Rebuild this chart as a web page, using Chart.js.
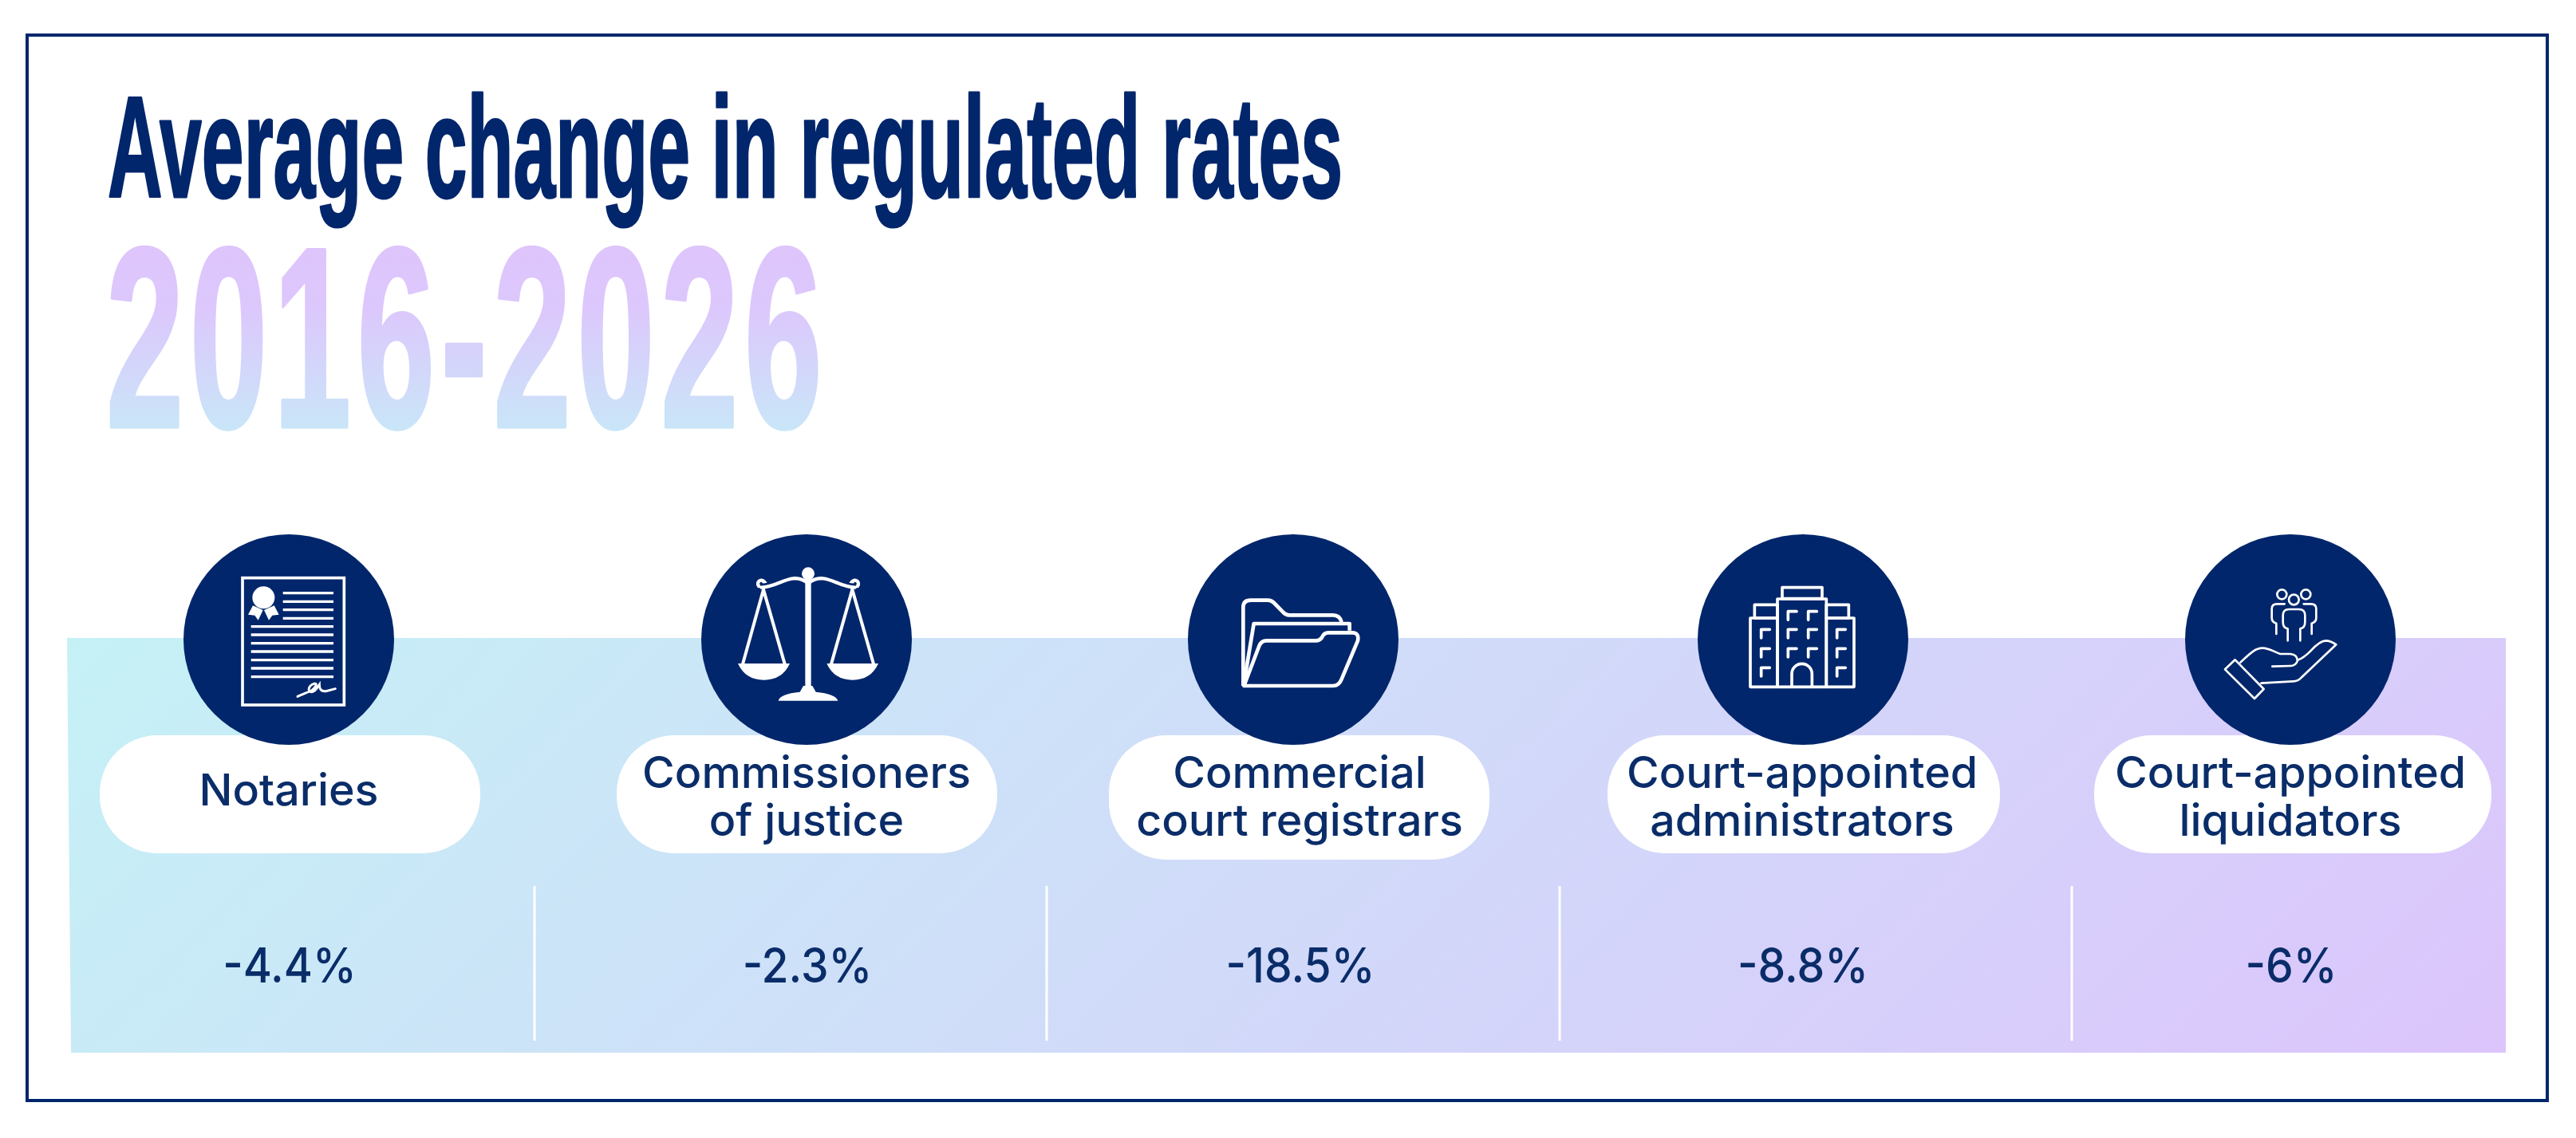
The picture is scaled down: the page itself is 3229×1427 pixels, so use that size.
<!DOCTYPE html>
<html>
<head>
<meta charset="utf-8">
<title>Average change in regulated rates</title>
<script src="https://cdn.jsdelivr.net/npm/chart.js@4/dist/chart.umd.min.js"></script>
<style>
    html, body { margin: 0; padding: 0; background: #fff; }
    canvas { display: block; }
</style>
</head>
<body>
<canvas id="ratesChart" width="3229" height="1427"></canvas>
<script>
const titleText = 'Average change in regulated rates';
const periodText = '2016-2026';
const categories = [
    ['Notaries'],
    ['Commissioners', 'of justice'],
    ['Commercial', 'court registrars'],
    ['Court-appointed', 'administrators'],
    ['Court-appointed', 'liquidators']
];
const changeValues = [-4.4, -2.3, -18.5, -8.8, -6];

// Layout only, in axis units (the axes run over the whole page)
const columnX = [362, 1011, 1621, 2260, 2871];
const labelX = [362, 1011, 1629, 2259, 2871];
const valueX = [363, 1012, 1630, 2260, 2872];
const pillLeft = [125, 773, 1390, 2015, 2625];
const pillRight = [602, 1250, 1867, 2507, 3123];
const pillBottom = [1070, 1070, 1078, 1070, 1070];
const dividerX = [670, 1312, 1955, 2597];

const NAVY = '#02266b';
const INK = '#0a2d69';
const LABEL_FONT = '500 55px Inter, "Noto Sans", sans-serif';
const VALUE_FONT = '500 60px Inter, "Noto Sans", sans-serif';

function dividerPoints() {
    const points = [];
    dividerX.forEach(x => {
        points.push({ x: x, y: 1111 }, { x: x, y: 1305 }, { x: x, y: null });
    });
    return points;
}

// Draws text squeezed to a target width, the installed fonts are all wider than the original
function fitText(ctx, text, left, baseline, width, weight) {
    ctx.save();
    const natural = ctx.measureText(text).width;
    ctx.translate(left, 0);
    ctx.scale(width / natural, 1);
    if (weight) {
        ctx.lineWidth = weight;
        ctx.lineJoin = 'round';
        ctx.strokeText(text, 0, baseline);
    }
    ctx.fillText(text, 0, baseline);
    ctx.restore();
}

function stretchedCenter(ctx, text, cx, baseline, stretch) {
    ctx.save();
    ctx.translate(cx, 0);
    ctx.scale(stretch, 1);
    ctx.textAlign = 'center';
    ctx.fillText(text, 0, baseline);
    ctx.restore();
}

// Icons are traced in a 600x600 box (3 units per pixel) around each badge
const icons = [
    function document(ctx) {
        ctx.lineWidth = 11;
        ctx.strokeRect(126, 74, 382, 478);
        ctx.lineWidth = 10;
        [131, 163, 194, 226].forEach(y => line(ctx, 278, y, 468, y));
        [257, 288, 320, 351, 383, 414, 446].forEach(y => line(ctx, 158, y, 468, y));
        ctx.beginPath();
        ctx.arc(205, 148, 42, 0, Math.PI * 2);
        ctx.fill();
        shape(ctx, [[165, 178], [147, 212], [172, 215], [185, 233], [203, 195]]);
        shape(ctx, [[245, 178], [263, 212], [238, 215], [225, 233], [207, 195]]);
        ctx.lineWidth = 9;
        ctx.lineCap = 'round';
        ctx.beginPath();
        ctx.moveTo(333, 520);
        ctx.bezierCurveTo(350, 512, 370, 505, 385, 498);
        ctx.bezierCurveTo(398, 490, 412, 468, 395, 472);
        ctx.bezierCurveTo(375, 478, 368, 500, 385, 503);
        ctx.bezierCurveTo(400, 505, 410, 482, 415, 475);
        ctx.bezierCurveTo(415, 490, 420, 503, 440, 500);
        ctx.lineTo(475, 491);
        ctx.stroke();
    },
    function scales(ctx) {
        ctx.fillRect(295, 60, 22, 430);
        ctx.beginPath();
        ctx.arc(306, 58, 24, 0, Math.PI * 2);
        ctx.fill();
        ctx.lineWidth = 13;
        ctx.lineCap = 'round';
        ctx.beginPath();
        ctx.moveTo(138, 88);
        ctx.arc(130, 96, 13, -0.7, 2.4, true);
        ctx.moveTo(130, 110);
        ctx.bezierCurveTo(180, 108, 210, 80, 250, 76);
        ctx.bezierCurveTo(275, 74, 295, 85, 306, 95);
        ctx.bezierCurveTo(317, 85, 337, 74, 362, 76);
        ctx.bezierCurveTo(402, 80, 432, 108, 482, 110);
        ctx.moveTo(474, 88);
        ctx.arc(482, 96, 13, Math.PI + 0.7, Math.PI - 2.4);
        ctx.stroke();
        ctx.lineWidth = 12;
        line(ctx, 138, 118, 60, 398);
        line(ctx, 138, 118, 218, 398);
        line(ctx, 472, 118, 393, 398);
        line(ctx, 472, 118, 552, 398);
        [[42, 237], [376, 570]].forEach(([a, b]) => {
            ctx.beginPath();
            ctx.moveTo(a, 396);
            ctx.quadraticCurveTo(a + 28, 458, (a + b) / 2, 458);
            ctx.quadraticCurveTo(b - 28, 458, b, 396);
            ctx.closePath();
            ctx.fill();
        });
        ctx.beginPath();
        ctx.moveTo(194, 536);
        ctx.quadraticCurveTo(200, 510, 275, 503);
        ctx.lineTo(288, 480);
        ctx.lineTo(322, 480);
        ctx.lineTo(335, 503);
        ctx.quadraticCurveTo(410, 510, 418, 536);
        ctx.closePath();
        ctx.fill();
    },
    function folder(ctx) {
        ctx.lineWidth = 14;
        ctx.lineJoin = 'round';
        ctx.beginPath();
        ctx.moveTo(112, 480);
        ctx.lineTo(112, 185);
        ctx.quadraticCurveTo(112, 158, 140, 158);
        ctx.lineTo(205, 158);
        ctx.quadraticCurveTo(218, 158, 228, 168);
        ctx.lineTo(262, 203);
        ctx.quadraticCurveTo(272, 214, 285, 214);
        ctx.lineTo(450, 214);
        ctx.quadraticCurveTo(475, 214, 482, 240);
        ctx.stroke();
        ctx.beginPath();
        ctx.moveTo(115, 470);
        ctx.lineTo(152, 246);
        ctx.lineTo(512, 246);
        ctx.lineTo(512, 272);
        ctx.stroke();
        ctx.beginPath();
        ctx.moveTo(115, 480);
        ctx.lineTo(172, 330);
        ctx.quadraticCurveTo(180, 310, 200, 310);
        ctx.lineTo(385, 310);
        ctx.quadraticCurveTo(400, 310, 408, 298);
        ctx.quadraticCurveTo(416, 280, 432, 280);
        ctx.lineTo(525, 280);
        ctx.quadraticCurveTo(548, 282, 543, 310);
        ctx.lineTo(482, 455);
        ctx.quadraticCurveTo(472, 480, 450, 480);
        ctx.closePath();
        ctx.stroke();
    },
    function building(ctx) {
        ctx.lineWidth = 11;
        ctx.lineJoin = 'round';
        ctx.lineCap = 'round';
        ctx.strokeRect(222, 110, 150, 42);
        ctx.strokeRect(204, 153, 184, 331);
        ctx.strokeRect(118, 175, 86, 50);
        ctx.strokeRect(102, 225, 102, 259);
        ctx.strokeRect(388, 175, 84, 50);
        ctx.strokeRect(388, 225, 104, 259);
        const windows = [
            [244, 200], [320, 200], [244, 268], [320, 268], [244, 340], [320, 340],
            [143, 268], [143, 340], [143, 412], [428, 268], [428, 340], [428, 412]
        ];
        windows.forEach(([x, y]) => {
            ctx.beginPath();
            ctx.moveTo(x, y + 32);
            ctx.lineTo(x, y);
            ctx.lineTo(x + 32, y);
            ctx.stroke();
        });
        ctx.beginPath();
        ctx.moveTo(258, 484);
        ctx.lineTo(258, 435);
        ctx.arc(296, 435, 38, Math.PI, 0);
        ctx.lineTo(334, 484);
        ctx.stroke();
    },
    function hand(ctx) {
        ctx.lineWidth = 8;
        ctx.lineJoin = 'round';
        ctx.lineCap = 'round';
        ctx.beginPath();
        ctx.moveTo(92, 382);
        ctx.lineTo(54, 418);
        ctx.lineTo(165, 528);
        ctx.lineTo(200, 492);
        ctx.closePath();
        ctx.stroke();
        ctx.beginPath();
        ctx.moveTo(112, 392);
        ctx.bezierCurveTo(150, 355, 170, 338, 195, 338);
        ctx.bezierCurveTo(220, 338, 245, 355, 262, 360);
        ctx.lineTo(300, 360);
        ctx.quadraticCurveTo(325, 362, 327, 385);
        ctx.quadraticCurveTo(320, 405, 300, 405);
        ctx.lineTo(232, 407);
        ctx.moveTo(330, 382);
        ctx.quadraticCurveTo(350, 375, 375, 350);
        ctx.quadraticCurveTo(410, 310, 435, 310);
        ctx.quadraticCurveTo(455, 312, 472, 325);
        ctx.lineTo(340, 450);
        ctx.quadraticCurveTo(330, 462, 310, 463);
        ctx.lineTo(190, 470);
        ctx.stroke();
        [[268, 136, 18], [358, 136, 18], [313, 156, 19]].forEach(([x, y, r]) => {
            ctx.beginPath();
            ctx.arc(x, y, r, 0, Math.PI * 2);
            ctx.stroke();
        });
        ctx.beginPath();
        ctx.moveTo(290, 310);
        ctx.lineTo(290, 265);
        ctx.quadraticCurveTo(272, 262, 272, 240);
        ctx.lineTo(272, 215);
        ctx.quadraticCurveTo(272, 192, 295, 192);
        ctx.lineTo(332, 192);
        ctx.quadraticCurveTo(355, 192, 355, 215);
        ctx.lineTo(355, 240);
        ctx.quadraticCurveTo(355, 262, 337, 265);
        ctx.lineTo(337, 310);
        ctx.moveTo(247, 285);
        ctx.lineTo(247, 245);
        ctx.quadraticCurveTo(230, 240, 230, 225);
        ctx.lineTo(230, 190);
        ctx.quadraticCurveTo(230, 172, 250, 172);
        ctx.lineTo(278, 172);
        ctx.moveTo(380, 285);
        ctx.lineTo(380, 245);
        ctx.quadraticCurveTo(397, 240, 397, 225);
        ctx.lineTo(397, 190);
        ctx.quadraticCurveTo(397, 172, 377, 172);
        ctx.lineTo(350, 172);
        ctx.stroke();
    }
];

function line(ctx, x1, y1, x2, y2) {
    ctx.beginPath();
    ctx.moveTo(x1, y1);
    ctx.lineTo(x2, y2);
    ctx.stroke();
}

function shape(ctx, points) {
    ctx.beginPath();
    points.forEach(([x, y], i) => (i ? ctx.lineTo(x, y) : ctx.moveTo(x, y)));
    ctx.closePath();
    ctx.fill();
}

const backdropPlugin = {
    id: 'backdrop',
    beforeDatasetsDraw(chart) {
        const { ctx, scales: { x, y } } = chart;
        const px = v => x.getPixelForValue(v);
        const py = v => y.getPixelForValue(v);

        ctx.save();
        ctx.strokeStyle = NAVY;
        ctx.lineWidth = 4;
        ctx.strokeRect(px(34), py(44), px(3193) - px(34), py(1380) - py(44));

        // Panel, its left edge leans slightly in the original
        const gradient = ctx.createLinearGradient(px(718), py(166), px(2506), py(1954));
        gradient.addColorStop(0, '#c5f1f6');
        gradient.addColorStop(1, '#dcc5fc');
        ctx.fillStyle = gradient;
        ctx.beginPath();
        ctx.moveTo(px(84), py(800));
        ctx.lineTo(px(3141), py(800));
        ctx.lineTo(px(3141), py(1320));
        ctx.lineTo(px(89), py(1320));
        ctx.closePath();
        ctx.fill();

        ctx.fillStyle = '#fff';
        categories.forEach((_, i) => {
            ctx.beginPath();
            ctx.roundRect(px(pillLeft[i]), py(922), px(pillRight[i]) - px(pillLeft[i]), py(pillBottom[i]) - py(922), 72);
            ctx.fill();
        });

        ctx.fillStyle = NAVY;
        ctx.strokeStyle = NAVY;
        ctx.font = 'bold 180px "Liberation Sans Narrow", "Liberation Sans", sans-serif';
        fitText(ctx, titleText, px(135), py(247), 1548, 3);

        const periodFill = ctx.createLinearGradient(0, py(308), 0, py(540));
        periodFill.addColorStop(0, '#dec5fc');
        periodFill.addColorStop(0.35, '#dcc8fc');
        periodFill.addColorStop(1, '#c9e6f8');
        ctx.fillStyle = periodFill;
        ctx.strokeStyle = periodFill;
        ctx.font = 'bold 322px "Liberation Sans Narrow", "Liberation Sans", sans-serif';
        ctx.letterSpacing = '14px';
        fitText(ctx, periodText, px(133), py(535), 905, 5);
        ctx.letterSpacing = '0px';
        ctx.restore();
    },
    afterDatasetsDraw(chart) {
        const { ctx, scales: { x, y } } = chart;

        ctx.save();
        ctx.strokeStyle = '#fff';
        ctx.fillStyle = '#fff';
        icons.forEach((icon, i) => {
            ctx.save();
            ctx.translate(x.getPixelForValue(columnX[i]) - 100, y.getPixelForValue(802) - 102);
            ctx.scale(1 / 3, 1 / 3);
            icon(ctx);
            ctx.restore();
        });

        ctx.fillStyle = INK;
        ctx.font = LABEL_FONT;
        categories.forEach((lines, i) => {
            const baselines = lines.length === 1 ? [1010] : [988, 1048];
            lines.forEach((text, j) => {
                stretchedCenter(ctx, text, x.getPixelForValue(labelX[i]), y.getPixelForValue(baselines[j]), 1.01);
            });
        });

        ctx.font = VALUE_FONT;
        changeValues.forEach((value, i) => {
            stretchedCenter(ctx, value + '%', x.getPixelForValue(valueX[i]), y.getPixelForValue(1232), 0.92);
        });
        ctx.restore();
    }
};

new Chart(document.getElementById('ratesChart'), {
    type: 'scatter',
    data: {
        datasets: [
            {
                label: 'Badges',
                data: columnX.map(x => ({ x: x, y: 802 })),
                pointRadius: 132,
                pointHoverRadius: 132,
                pointBackgroundColor: NAVY,
                pointBorderWidth: 0,
                clip: false
            },
            {
                label: 'Dividers',
                data: dividerPoints(),
                showLine: true,
                spanGaps: false,
                borderColor: '#fff',
                borderWidth: 3,
                pointRadius: 0
            }
        ]
    },
    options: {
        responsive: false,
        animation: false,
        devicePixelRatio: 1,
        layout: { padding: 0, autoPadding: false },
        plugins: {
            legend: { display: false },
            tooltip: { enabled: false }
        },
        scales: {
            x: { type: 'linear', min: 0, max: 3229, display: false },
            y: { type: 'linear', min: 0, max: 1427, reverse: true, display: false }
        }
    },
    plugins: [backdropPlugin]
});
</script>
</body>
</html>
